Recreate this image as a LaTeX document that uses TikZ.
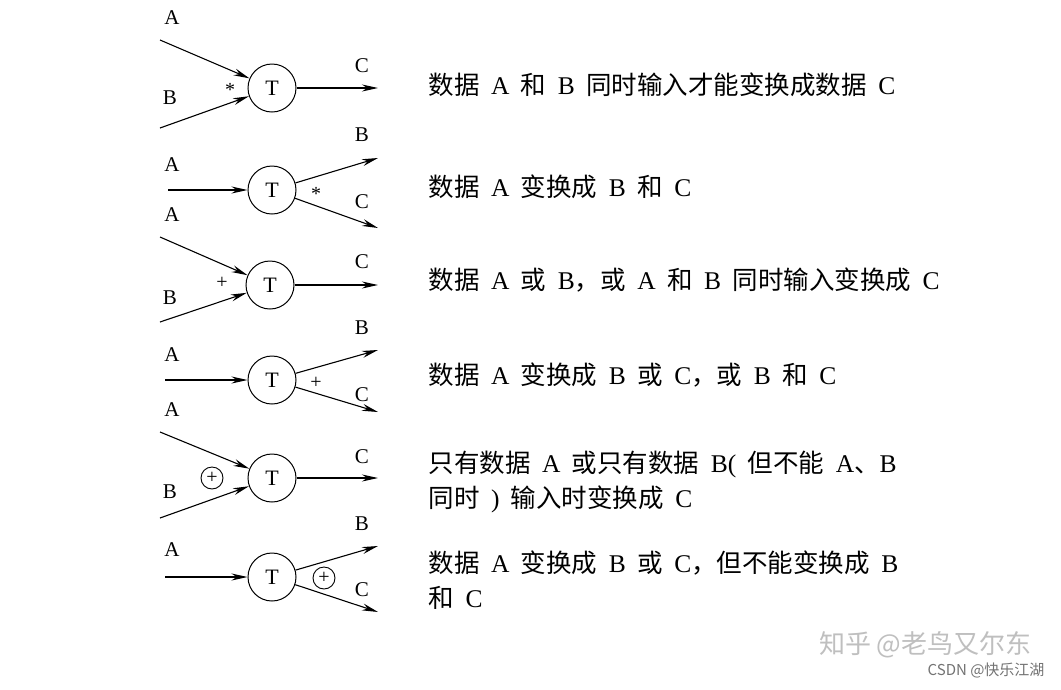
\documentclass[tikz,border=0pt]{standalone}
\usepackage{fontspec}
\usetikzlibrary{arrows.meta}
\setmainfont{Liberation Serif}
\newfontfamily\cjk{Noto Sans CJK SC}
\newcommand{\zh}[1]{{\cjk #1}}
\newcommand{\descfont}{\fontsize{25.5}{35}\selectfont\spaceskip=0.45em\relax}
\begin{document}
\begin{tikzpicture}[x=1pt,y=-1pt,
 proc/.style={circle,draw,line width=1pt,minimum size=48pt,inner sep=0pt,font=\fontsize{22}{22}\selectfont},
 lab/.style={font=\fontsize{21}{21}\selectfont},
 sym/.style={font=\fontsize{20}{20}\selectfont},
 xo/.style={circle,draw,line width=0.9pt,minimum size=22pt,inner sep=0pt,font=\fontsize{20}{20}\selectfont},
 desc/.style={anchor=west,font=\descfont,align=left},
 arr/.style={-{Stealth[length=16pt,width=7pt]},line width=1.1pt}]
\useasboundingbox[fill=white] (0,0) rectangle (1061,689);
% Row 1
\node[proc] (t1) at (272,88) {T};
\coordinate (a1) at (160,40); \coordinate (b1) at (160,128); \coordinate (c1) at (378,88);
\draw[arr] (a1) -- (t1); \draw[arr] (b1) -- (t1); \draw[arr] (t1) -- (c1);
\node[lab] (la1) at (172,18) {A}; \node[lab] (lb1) at (170,98) {B}; \node[lab] (lc1) at (362,66) {C};
\node[sym] (s1) at (230,90) {*};
\node[desc] (d1) at (425,85) {\zh{数据} A \zh{和} B \zh{同时输入才能变换成数据} C};
% Row 2
\node[proc] (t2) at (272,190) {T};
\coordinate (a2) at (168,190); \coordinate (b2) at (378,158); \coordinate (c2) at (378,228);
\draw[arr] (a2) -- (t2); \draw[arr] (t2) -- (b2); \draw[arr] (t2) -- (c2);
\node[lab] (la2) at (172,165) {A}; \node[lab] (lb2) at (362,135) {B}; \node[lab] (lc2) at (362,202) {C};
\node[sym] (s2) at (316,194) {*};
\node[desc] (d2) at (425,187) {\zh{数据} A \zh{变换成} B \zh{和} C};
% Row 3
\node[proc] (t3) at (270,285) {T};
\coordinate (a3) at (160,237); \coordinate (b3) at (160,322); \coordinate (c3) at (378,285);
\draw[arr] (a3) -- (t3); \draw[arr] (b3) -- (t3); \draw[arr] (t3) -- (c3);
\node[lab] (la3) at (172,215) {A}; \node[lab] (lb3) at (170,298) {B}; \node[lab] (lc3) at (362,262) {C};
\node[sym] (s3) at (222,283) {+};
\node[desc] (d3) at (425,280) {\zh{数据} A \zh{或} B\zh{，或} A \zh{和} B \zh{同时输入变换成} C};
% Row 4
\node[proc] (t4) at (272,380) {T};
\coordinate (a4) at (165,380); \coordinate (b4) at (378,350); \coordinate (c4) at (378,412);
\draw[arr] (a4) -- (t4); \draw[arr] (t4) -- (b4); \draw[arr] (t4) -- (c4);
\node[lab] (la4) at (172,355) {A}; \node[lab] (lb4) at (362,328) {B}; \node[lab] (lc4) at (362,395) {C};
\node[sym] (s4) at (316,383) {+};
\node[desc] (d4) at (425,375) {\zh{数据} A \zh{变换成} B \zh{或} C\zh{，或} B \zh{和} C};
% Row 5
\node[proc] (t5) at (272,478) {T};
\coordinate (a5) at (160,432); \coordinate (b5) at (160,518); \coordinate (c5) at (378,478);
\draw[arr] (a5) -- (t5); \draw[arr] (b5) -- (t5); \draw[arr] (t5) -- (c5);
\node[lab] (la5) at (172,410) {A}; \node[lab] (lb5) at (170,492) {B}; \node[lab] (lc5) at (362,457) {C};
\node[xo] (s5) at (212,478) {+};
\node[desc] (d5) at (425,482) {\zh{只有数据} A \zh{或只有数据} B( \zh{但不能} A\zh{、}B\\ \zh{同时} ) \zh{输入时变换成} C};
% Row 6
\node[proc] (t6) at (272,577) {T};
\coordinate (a6) at (165,577); \coordinate (b6) at (378,546); \coordinate (c6) at (378,612);
\draw[arr] (a6) -- (t6); \draw[arr] (t6) -- (b6); \draw[arr] (t6) -- (c6);
\node[lab] (la6) at (172,550) {A}; \node[lab] (lb6) at (362,524) {B}; \node[lab] (lc6) at (362,590) {C};
\node[xo] (s6) at (324,578) {+};
\node[desc] (d6) at (425,580) {\zh{数据} A \zh{变换成} B \zh{或} C\zh{，但不能变换成} B\\ \zh{和} C};
% watermark
\node[anchor=east,text=black!25,font=\cjk\fontsize{26}{26}\selectfont] (w1) at (1035,645) {知乎 @老鸟又尔东};
\node[anchor=east,text=black!55,font=\cjk\fontsize{15}{15}\selectfont] (w2) at (1048,670) {CSDN @快乐江湖};
\end{tikzpicture}
\end{document}
